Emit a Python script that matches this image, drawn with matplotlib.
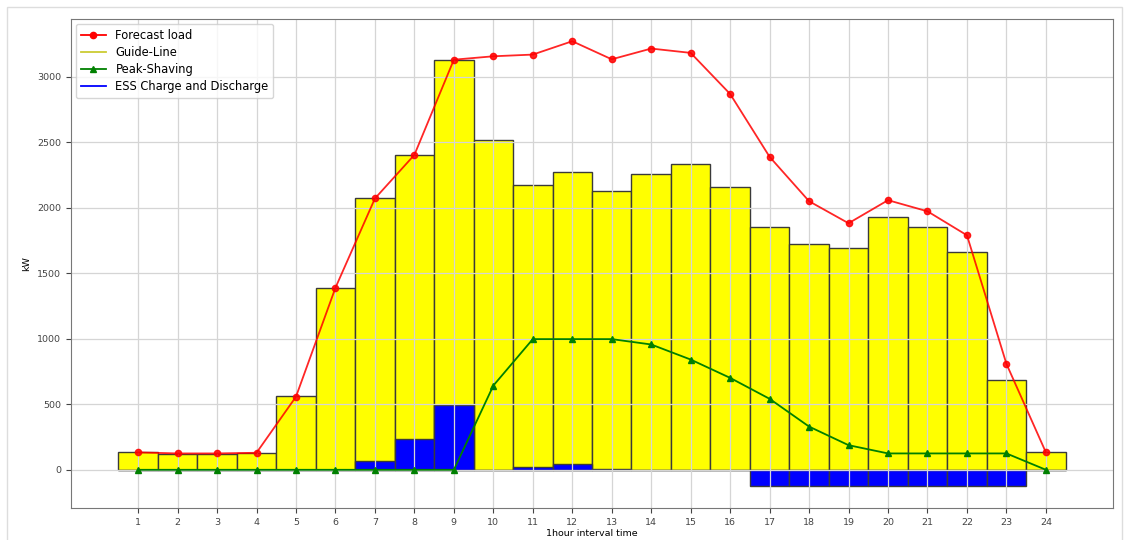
import matplotlib
matplotlib.use("Agg")
import matplotlib.pyplot as plt
from matplotlib.lines import Line2D
from matplotlib.patches import Rectangle

hours = list(range(1, 25))
forecast_load = [133, 125, 125, 130, 558, 1390, 2072, 2405, 3132, 3158, 3171, 3273,
                 3135, 3217, 3184, 2870, 2390, 2051, 1883, 2059, 1974, 1791, 809, 133]
guide_line = [135, 122, 122, 128, 561, 1385, 2072, 2403, 3128, 2518, 2173, 2273,
              2133, 2262, 2339, 2161, 1852, 1722, 1697, 1931, 1852, 1663, 684, 135]
peak_shaving = [0, 0, 0, 0, 0, 0, 0, 0, 0, 643, 998, 998,
                998, 957, 842, 702, 542, 330, 188, 125, 125, 125, 125, 0]
ess = [0, 0, 0, 0, 0, 0, 68, 235, 495, 0, 20, 45,
       5, 0, 0, 0, -122, -122, -122, -122, -122, -122, -122, 0]

W, H = 1124, 540
fig = plt.figure(figsize=(W / 100, H / 100), dpi=100)
ax = fig.add_axes([71 / W, 1 - 508 / H, (1113 - 71) / W, (508 - 19) / H])

fig.patches.append(Rectangle((7 / W, -0.05), (1122 - 7) / W, 1 - 7 / H + 0.05,
                             transform=fig.transFigure, fill=False,
                             edgecolor='#dddddd', linewidth=1))

ax.bar(hours, guide_line, width=1.0, color='#ffff00', edgecolor='#3a3a3a', linewidth=1)
ax.bar(hours, ess, width=1.0, color='#0000ff', edgecolor='#3a3a3a', linewidth=1)
ax.plot(hours, forecast_load, color='red', marker='o', markersize=4.5, linewidth=1.3, alpha=0.85)
ax.plot(hours, peak_shaving, color='green', marker='^', markersize=4.5, linewidth=1.3)

ax.grid(True, color='#d5d5d5', linewidth=0.9)
ax.set_xticks(hours)
ax.tick_params(labelsize=6.8, colors='#444444')
ax.set_xlabel('1hour interval time', fontsize=6.8, labelpad=2)
ax.set_ylabel('kW', fontsize=6.8)
for s in ax.spines.values():
    s.set_color('#777777')

handles = [Line2D([], [], color='red', marker='o', markersize=4.5, linewidth=1.3),
           Line2D([], [], color='#cccc33', linewidth=1.3),
           Line2D([], [], color='green', marker='^', markersize=4.5, linewidth=1.3),
           Line2D([], [], color='blue', linewidth=1.3)]
labels = ['Forecast load', 'Guide-Line', 'Peak-Shaving', 'ESS Charge and Discharge']
ax.legend(handles, labels, loc='upper left', fontsize=8.3, borderaxespad=0.45,
          handlelength=2.2, labelspacing=0.36)

fig.savefig('out.png', dpi=100)
